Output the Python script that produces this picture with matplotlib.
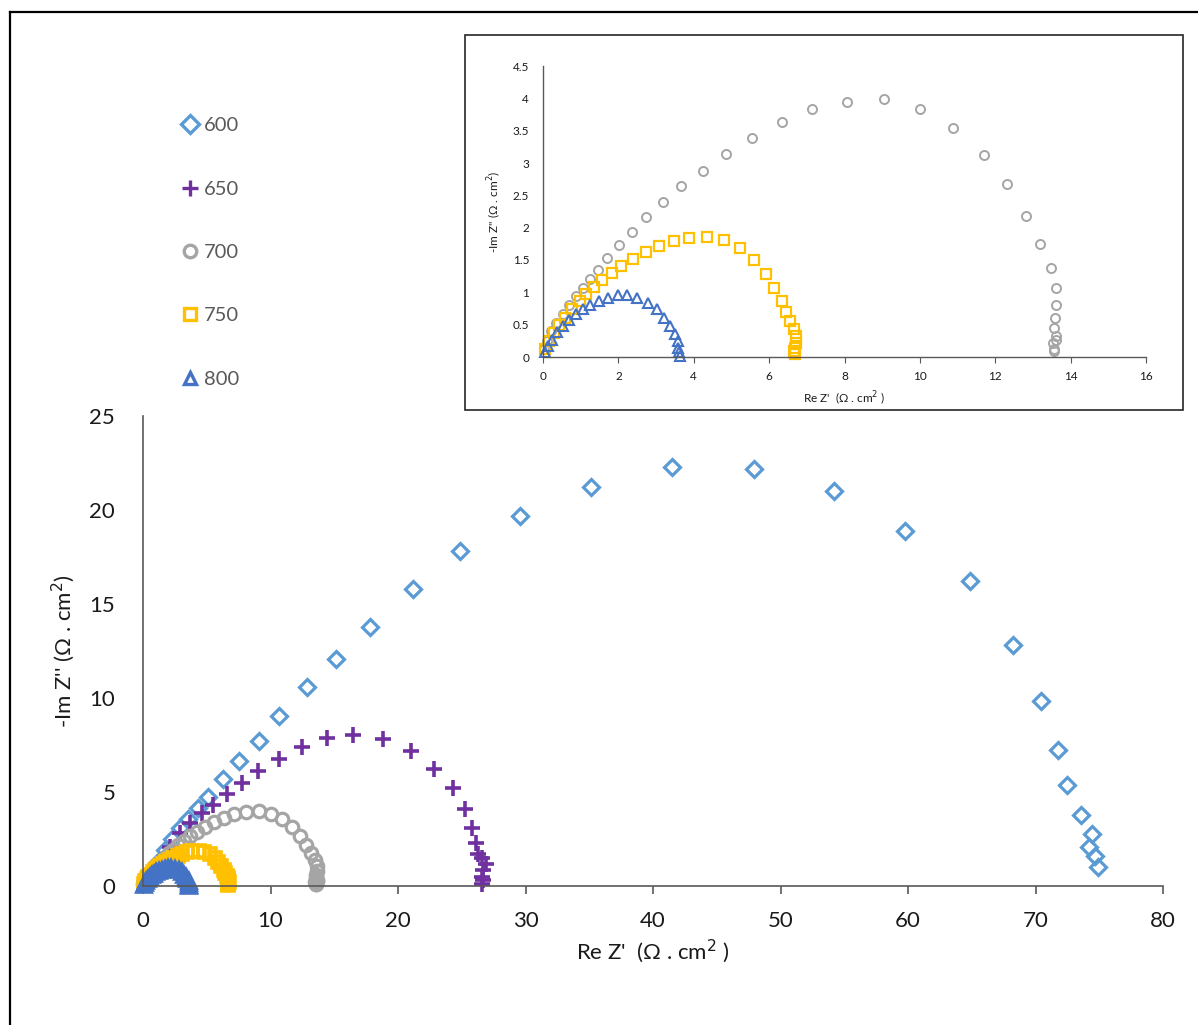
import matplotlib
matplotlib.use("Agg")
import matplotlib.pyplot as plt
from matplotlib.patches import Rectangle
from matplotlib.lines import Line2D

plt.rcParams['font.family'] = ['Lato', 'DejaVu Sans']

# Nyquist data, Re Z' and -Im Z'' in ohm.cm2, one pair of arrays per temperature
series_labels = ['600', '650', '700', '750', '800']

re_600 = [0.3, 0.7, 1.2, 1.7, 2.3, 2.9, 3.5, 4.3, 5.1, 6.25, 7.5, 9.1, 10.7, 12.9, 15.1,
          17.8, 21.2, 24.9, 29.6, 35.1, 41.5, 47.9, 54.2, 59.8, 64.9, 68.2, 70.4, 71.8,
          72.5, 73.6, 74.4, 74.2, 74.7, 74.9]
im_600 = [0.35, 0.8, 1.3, 1.9, 2.5, 3.08, 3.55, 4.13, 4.75, 5.67, 6.65, 7.7, 9.04, 10.6, 12.1,
          13.8, 15.8, 17.8, 19.7, 21.2, 22.3, 22.2, 21.0, 18.9, 16.2, 12.8, 9.84, 7.23,
          5.37, 3.78, 2.77, 2.07, 1.6, 1.0]

re_650 = [0.3, 0.8, 1.4, 2.1, 2.9, 3.7, 4.6, 5.5, 6.55, 7.8, 9.05, 10.67, 12.45, 14.4, 16.5,
          18.85, 21.0, 22.8, 24.3, 25.25, 25.8, 26.1, 26.3, 26.55, 26.9, 26.7, 26.6, 26.7, 26.6]
im_650 = [0.3, 0.8, 1.4, 2.1, 2.8, 3.35, 3.86, 4.3, 4.87, 5.46, 6.13, 6.76, 7.41, 7.86, 8.03,
          7.8, 7.2, 6.2, 5.2, 4.08, 3.07, 2.27, 1.7, 1.47, 1.17, 0.85, 0.5, 0.3, 0.1]

re_700 = [0.02, 0.1, 0.22, 0.35, 0.52, 0.68, 0.87, 1.05, 1.26, 1.46, 1.71, 2.02, 2.35, 2.74,
          3.18, 3.67, 4.24, 4.85, 5.54, 6.33, 7.15, 8.07, 9.06, 10.0, 10.89, 11.69, 12.30,
          12.82, 13.20, 13.49, 13.62, 13.61, 13.59, 13.56, 13.62, 13.62, 13.52, 13.56, 13.56]
im_700 = [0.12, 0.25, 0.40, 0.53, 0.67, 0.81, 0.95, 1.07, 1.21, 1.35, 1.53, 1.73, 1.94, 2.17,
          2.40, 2.64, 2.88, 3.14, 3.39, 3.64, 3.83, 3.94, 3.99, 3.84, 3.54, 3.13, 2.68,
          2.18, 1.75, 1.38, 1.07, 0.80, 0.60, 0.45, 0.33, 0.26, 0.21, 0.12, 0.09]

re_750 = [0.04, 0.15, 0.28, 0.43, 0.59, 0.77, 0.97, 1.15, 1.36, 1.57, 1.83, 2.08, 2.39, 2.72,
          3.07, 3.47, 3.88, 4.36, 4.80, 5.23, 5.61, 5.92, 6.14, 6.33, 6.44, 6.56, 6.66, 6.70,
          6.71, 6.69, 6.66, 6.69]
im_750 = [0.12, 0.25, 0.37, 0.49, 0.61, 0.74, 0.87, 0.97, 1.09, 1.19, 1.30, 1.40, 1.51, 1.62,
          1.71, 1.79, 1.84, 1.86, 1.81, 1.69, 1.50, 1.29, 1.06, 0.86, 0.69, 0.55, 0.43, 0.33,
          0.22, 0.14, 0.09, 0.04]

re_800 = [0.06, 0.12, 0.25, 0.37, 0.52, 0.68, 0.87, 1.05, 1.26, 1.49, 1.73, 1.98, 2.23, 2.50,
          2.79, 3.03, 3.22, 3.38, 3.49, 3.57, 3.59, 3.62, 3.63]
im_800 = [0.07, 0.17, 0.27, 0.38, 0.48, 0.57, 0.66, 0.74, 0.81, 0.87, 0.92, 0.96, 0.96, 0.92,
          0.84, 0.74, 0.61, 0.48, 0.35, 0.25, 0.14, 0.07, 0.02]

main_xticks = [0, 10, 20, 30, 40, 50, 60, 70, 80]
main_yticks = [0, 5, 10, 15, 20, 25]
inset_xticks = [0, 2, 4, 6, 8, 10, 12, 14, 16]
inset_yticks = [0, 0.5, 1, 1.5, 2, 2.5, 3, 3.5, 4, 4.5]

colors = {'600': '#5B9BD5', '650': '#7030A0', '700': '#A5A5A5', '750': '#FFC000', '800': '#4472C4'}
markers = {'600': 'D', '650': '+', '700': 'o', '750': 's', '800': '^'}
main_style = {'600': (8.0, 2.3), '650': (11, 2.6), '700': (9.0, 2.3), '750': (9.0, 2.6), '800': (9.5, 2.6)}
inset_style = {'700': (6.5, 1.4), '750': (6.5, 1.6), '800': (6.8, 1.5)}

data = {'600': (re_600, im_600), '650': (re_650, im_650), '700': (re_700, im_700),
        '750': (re_750, im_750), '800': (re_800, im_800)}

W, H = 1198, 1025
fig = plt.figure(figsize=(W / 100, H / 100), dpi=100)

# outer frame
fig.add_artist(Line2D([10 / W, 10 / W], [0, 1 - 12 / H], color='black', lw=1.6, transform=fig.transFigure))
fig.add_artist(Line2D([10 / W, 1], [1 - 12 / H, 1 - 12 / H], color='black', lw=1.6, transform=fig.transFigure))

text_col = '#1a1a1a'
axis_col = '#595959'

# ---- main axes ----
ax = fig.add_axes([143 / W, 1 - 886 / H, (1163 - 143) / W, (886 - 416) / H])
for name in series_labels:
    x, y = data[name]
    ms, mew = main_style[name]
    ax.plot(x, y, linestyle='none', marker=markers[name], markersize=ms,
            markerfacecolor='none', markeredgecolor=colors[name], markeredgewidth=mew,
            clip_on=False, label=name)
ax.set_xlim(0, 80)
ax.set_ylim(0, 25)
ax.set_xticks(main_xticks)
ax.set_yticks(main_yticks)
for s in ['top', 'right']:
    ax.spines[s].set_visible(False)
for s in ['left', 'bottom']:
    ax.spines[s].set_color(axis_col)
    ax.spines[s].set_linewidth(1.2)
ax.tick_params(axis='x', direction='out', length=6, width=1.2, color=axis_col,
               labelsize=16, labelcolor=text_col, pad=12)
ax.tick_params(axis='y', length=0, labelsize=16, labelcolor=text_col, pad=20)
ax.set_xlabel("Re Z'  (\u03a9 . cm$^2$ )", fontsize=16, color=text_col, labelpad=5)
ax.set_ylabel("-Im Z'' (\u03a9 . cm$^2$)", fontsize=16, color=text_col, labelpad=9)

# legend in the upper-left corner
handles = [Line2D([], [], linestyle='none', marker=markers[n], markersize=9 if n != '650' else 11,
                  markerfacecolor='none', markeredgecolor=colors[n], markeredgewidth=2.4)
           for n in series_labels]
leg = fig.legend(handles, series_labels, loc='upper left', bbox_to_anchor=(172 / W, 1 - 107 / H),
                 frameon=False, fontsize=14.5, labelspacing=2.3, handlelength=0.8,
                 handletextpad=0.3, borderpad=0)
for t in leg.get_texts():
    t.set_color('#595959')

# ---- inset ----
fig.add_artist(Rectangle((465 / W, 1 - 410 / H), (1183 - 465) / W, (410 - 35) / H,
                         transform=fig.transFigure, facecolor='white', edgecolor='#262626',
                         lw=1.2, zorder=0))
axi = fig.add_axes([543 / W, 1 - 357 / H, (1146 - 543) / W, (357 - 66) / H])
axi.patch.set_alpha(0)
for name in ['700', '750', '800']:
    x, y = data[name]
    ms, mew = inset_style[name]
    axi.plot(x, y, linestyle='none', marker=markers[name], markersize=ms,
             markerfacecolor='none', markeredgecolor=colors[name], markeredgewidth=mew,
             clip_on=False)
axi.set_xlim(0, 16)
axi.set_ylim(0, 4.5)
axi.set_xticks(inset_xticks)
axi.set_yticks(inset_yticks)
axi.set_yticklabels([f'{v:g}' for v in inset_yticks])
for s in ['top', 'right']:
    axi.spines[s].set_visible(False)
for s in ['left', 'bottom']:
    axi.spines[s].set_color(axis_col)
    axi.spines[s].set_linewidth(1.0)
axi.tick_params(axis='x', direction='out', length=4, width=0.8, color=axis_col,
                labelsize=8.5, labelcolor=text_col, pad=6)
axi.tick_params(axis='y', length=0, labelsize=8.5, labelcolor=text_col, pad=10)
axi.set_xlabel("Re Z'  (\u03a9 . cm$^2$ )", fontsize=8.5, color=text_col, labelpad=6)
axi.set_ylabel("-Im Z'' (\u03a9 . cm$^2$)", fontsize=8.5, color=text_col, labelpad=6)

fig.savefig('out.png', dpi=100)
